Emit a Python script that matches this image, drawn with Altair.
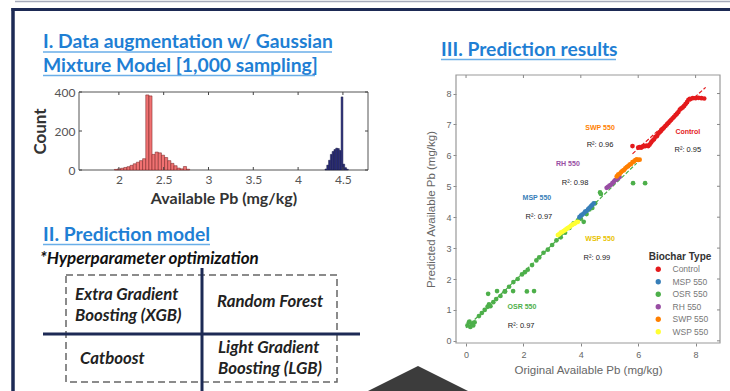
import altair as alt
import pandas as pd

# ---------------- data: histogram (GMM sampling) ----------------
red_bin_start = [1.950, 1.985, 2.020, 2.055, 2.090, 2.125, 2.160, 2.195, 2.230, 2.265,
                 2.300, 2.335, 2.370, 2.405, 2.440, 2.475, 2.510, 2.545, 2.580, 2.615,
                 2.650, 2.685, 2.720, 2.755]
red_count = [3, 6, 9, 13, 17, 24, 32, 40, 48, 58, 385, 380, 80, 92, 88, 76, 64, 48, 34, 22,
             10, 6, 18, 4]
red_bin_width = 0.035
blue_bin_start = [4.30, 4.32, 4.34, 4.36, 4.38, 4.40, 4.42, 4.44, 4.46, 4.48, 4.50, 4.52, 4.54]
blue_count = [5, 25, 50, 80, 95, 105, 112, 110, 100, 375, 30, 12, 4]
blue_bin_width = 0.02
hist_x_ticks = [2, 2.5, 3, 3.5, 4, 4.5]
hist_y_ticks = [0, 200, 400]

# ---------------- data: prediction scatter ----------------
categories = ["Control", "MSP 550", "OSR 550", "RH 550", "SWP 550", "WSP 550"]
cat_colors = ["#e41a1c", "#377eb8", "#4daf4a", "#984ea3", "#ff7f00", "#ffff33"]

osr_orig = [0.05, 0.10, 0.15, 0.20, 0.25, 0.30, 0.12, 0.45, 0.55, 0.65, 0.75, 0.80, 0.85,
            0.95, 1.05, 1.20, 1.35, 1.50, 1.65, 1.80, 1.95, 2.05, 2.15, 2.30, 2.45, 2.55,
            2.70, 2.85, 3.00, 3.15, 3.30, 3.45, 3.60, 3.75, 3.90, 4.00, 4.10, 4.20, 4.30,
            4.40, 4.50,
            0.77, 1.08, 1.36, 1.64, 2.12, 2.37, 4.67, 4.70, 5.82, 6.24]
osr_pred = [0.50, 0.60, 0.45, 0.55, 0.50, 0.60, 0.62, 0.80, 0.90, 1.00, 1.10, 1.18, 1.12,
            1.25, 1.35, 1.45, 1.60, 1.75, 1.90, 2.00, 2.15, 2.22, 2.30, 2.45, 2.60, 2.70,
            2.85, 2.95, 3.10, 3.25, 3.35, 3.50, 3.65, 3.80, 3.90, 3.95, 3.85, 4.10, 4.25,
            4.30, 4.45,
            1.52, 1.61, 1.60, 1.61, 1.60, 1.61, 4.80, 4.75, 5.10, 5.10]
wsp_orig = [3.20, 3.25, 3.30, 3.35, 3.40, 3.45, 3.50, 3.55, 3.60, 3.65, 3.70, 3.75, 3.80,
            3.85, 3.90]
wsp_pred = [3.42, 3.45, 3.50, 3.52, 3.55, 3.58, 3.62, 3.65, 3.68, 3.72, 3.75, 3.78, 3.80,
            3.84, 3.85]
msp_orig = [3.95, 4.00, 4.05, 4.10, 4.15, 4.20, 4.25, 4.30, 4.35, 4.40, 4.45]
msp_pred = [4.00, 4.05, 4.08, 4.12, 4.18, 4.20, 4.25, 4.30, 4.35, 4.40, 4.45]
rh_orig = [4.90, 4.95, 5.00, 5.05, 5.10, 5.15, 5.20, 5.25, 5.30, 5.35]
rh_pred = [4.95, 4.98, 5.02, 5.05, 5.10, 5.15, 5.20, 5.22, 5.27, 5.30]
swp_orig = [5.25, 5.30, 5.35, 5.40, 5.45, 5.50, 5.55, 5.60, 5.65, 5.70, 5.75, 5.80, 5.85,
            5.90, 5.95, 6.00, 6.05]
swp_pred = [5.32, 5.38, 5.40, 5.45, 5.50, 5.52, 5.58, 5.62, 5.65, 5.70, 5.72, 5.78, 5.80,
            5.85, 5.87, 5.85, 5.86]
ctrl_orig = [5.80, 6.00, 6.05, 6.10, 6.15, 6.20, 6.25, 6.30, 6.35, 6.40, 6.45, 6.50, 6.55,
             6.60, 6.65, 6.70, 6.75, 6.80, 6.85, 6.90, 6.95, 7.00, 7.05, 7.10, 7.15, 7.20,
             7.25, 7.30, 7.35, 7.40, 7.45, 7.50, 7.55, 7.60, 7.65, 7.70, 7.75, 7.80, 7.90,
             8.00, 8.10, 8.20, 8.30]
ctrl_pred = [6.30, 6.25, 6.27, 6.25, 6.28, 6.30, 6.30, 6.32, 6.30, 6.35, 6.42, 6.48, 6.52,
             6.60, 6.62, 6.70, 6.75, 6.80, 6.85, 6.90, 6.95, 7.00, 7.05, 7.10, 7.15, 7.20,
             7.25, 7.30, 7.35, 7.40, 7.48, 7.52, 7.55, 7.60, 7.66, 7.72, 7.80, 7.83, 7.85,
             7.85, 7.86, 7.85, 7.84]

fit_green_x = [0.0, 5.95]
fit_green_y = [0.42, 5.75]
fit_red_x = [5.80, 8.35]
fit_red_y = [6.05, 8.20]

ann_labels = ["SWP 550", "Control", "RH 550", "MSP 550", "WSP 550", "OSR 550"]
ann_x = [4.67, 7.73, 3.55, 2.47, 4.67, 1.95]
ann_y = [6.90, 6.74, 5.71, 4.61, 3.29, 1.10]
ann_colors = ["#ff7f00", "#e41a1c", "#984ea3", "#377eb8", "#e8c200", "#4daf4a"]
r2_labels = ["R\u00b2: 0.96", "R\u00b2: 0.95", "R\u00b2: 0.98", "R\u00b2: 0.97",
             "R\u00b2: 0.99", "R\u00b2: 0.97"]
r2_x = [4.67, 7.73, 3.80, 2.54, 4.56, 1.92]
r2_y = [6.32, 6.16, 5.10, 4.00, 2.68, 0.48]
sc_x_ticks = [0, 2, 4, 6, 8]
sc_y_ticks = [0, 1, 2, 3, 4, 5, 6, 7, 8]

# ---------------- styling ----------------
FONT_L = "Lato"
FONT_S = "Liberation Sans"
NAVY = "#1d2a55"
TITLE_BLUE = "#1f7fd4"
UL_BLUE = "#6aaee8"
TITLE_SIZE = 19.3
BOX_SIZE = 16.8

one = pd.DataFrame({"k": [0]})


def text(s, x, y, size, color="#222", weight="normal", style="normal",
         align="left", baseline="alphabetic", font=FONT_L):
    return alt.Chart(one).mark_text(
        text=s, align=align, baseline=baseline, font=font, fontSize=size,
        fontWeight=weight, fontStyle=style, color=color
    ).encode(x=alt.value(x), y=alt.value(y))


def hline(y, x1, x2, color, w, dash=None):
    kw = dict(color=color, strokeWidth=w)
    if dash:
        kw["strokeDash"] = dash
    return alt.Chart(one).mark_rule(**kw).encode(
        x=alt.value(x1), x2=alt.value(x2), y=alt.value(y))


def vline(x, y1, y2, color, w):
    return alt.Chart(one).mark_rule(color=color, strokeWidth=w).encode(
        x=alt.value(x), y=alt.value(y1), y2=alt.value(y2))


def box(x1, y1, x2, y2, color, w, dash=None):
    kw = dict(fill="white", fillOpacity=0, stroke=color, strokeWidth=w)
    if dash:
        kw["strokeDash"] = dash
    return alt.Chart(one).mark_rect(**kw).encode(
        x=alt.value(x1), x2=alt.value(x2), y=alt.value(y1), y2=alt.value(y2))


# ---------------- histogram ----------------
hist_rows = []
for s, c in zip(red_bin_start, red_count):
    hist_rows.append({"start": s, "end": round(s + red_bin_width, 4), "count": c,
                      "base": 0, "grp": "a"})
for s, c in zip(blue_bin_start, blue_count):
    hist_rows.append({"start": s, "end": round(s + blue_bin_width, 4), "count": c,
                      "base": 0, "grp": "b"})
hist_df = pd.DataFrame(hist_rows)

HX = alt.Scale(domain=[1.555, 4.78], range=[79, 368], nice=False, zero=False)
HY = alt.Scale(domain=[0, 400], range=[170, 92], nice=False, zero=False)

hist = alt.Chart(hist_df).mark_rect(strokeWidth=0.5).encode(
    x=alt.X("start:Q", scale=HX, axis=alt.Axis(
        orient="bottom", offset=-221, values=hist_x_ticks, ticks=False, domain=False,
        grid=False, labelFont=FONT_L, labelFontSize=12, labelColor="#555",
        labelPadding=4, labelFlush=False, labelOverlap=False, format="~g",
        title="Available Pb (mg/kg)", titleFont=FONT_L, titleFontSize=16,
        titleFontWeight="bold", titleColor="#333", titlePadding=5)),
    x2="end:Q",
    y=alt.Y("count:Q", scale=HY, axis=alt.Axis(
        orient="left", offset=-79, values=hist_y_ticks, ticks=False, domain=False,
        grid=False, labelFont=FONT_L, labelFontSize=12, labelColor="#555",
        labelPadding=4, labelOverlap=False, title="Count", titleFont=FONT_L,
        titleFontSize=17, titleFontWeight="bold", titleColor="#333", titlePadding=5)),
    y2="base:Q",
    fill=alt.Fill("grp:N", scale=alt.Scale(domain=["a", "b"],
                                           range=["#f07272", "#2b2e7e"]), legend=None),
    stroke=alt.Stroke("grp:N", scale=alt.Scale(domain=["a", "b"],
                                               range=["#6e1d1d", "#14163e"]), legend=None),
)

hx_df = pd.DataFrame({"v": hist_x_ticks})
hy_df = pd.DataFrame({"v": hist_y_ticks})
hist_top_ticks = alt.Chart(hx_df).mark_rule(color="#444", strokeWidth=1).encode(
    x=alt.X("v:Q", scale=HX, axis=None), y=alt.value(92), y2=alt.value(95))
hist_bot_ticks = alt.Chart(hx_df).mark_rule(color="#444", strokeWidth=1).encode(
    x=alt.X("v:Q", scale=HX, axis=None), y=alt.value(167), y2=alt.value(170))
hist_left_ticks = alt.Chart(hy_df).mark_rule(color="#444", strokeWidth=1).encode(
    y=alt.Y("v:Q", scale=HY, axis=None), x=alt.value(79), x2=alt.value(82))
hist_right_ticks = alt.Chart(hy_df).mark_rule(color="#444", strokeWidth=1).encode(
    y=alt.Y("v:Q", scale=HY, axis=None), x=alt.value(365), x2=alt.value(368))

# ---------------- scatter ----------------
sc_rows = []
for t, xs, ys in [("OSR 550", osr_orig, osr_pred), ("WSP 550", wsp_orig, wsp_pred),
                  ("MSP 550", msp_orig, msp_pred), ("RH 550", rh_orig, rh_pred),
                  ("SWP 550", swp_orig, swp_pred), ("Control", ctrl_orig, ctrl_pred)]:
    for a, b in zip(xs, ys):
        sc_rows.append({"orig": a, "pred": b, "type": t})
sc_df = pd.DataFrame(sc_rows)

SX = alt.Scale(domain=[-0.35, 8.85], range=[456, 720], nice=False, zero=False)
SY = alt.Scale(domain=[-0.07, 8.6], range=[343, 75], nice=False, zero=False)

points = alt.Chart(sc_df).mark_circle(size=22, opacity=1).encode(
    x=alt.X("orig:Q", scale=SX, axis=alt.Axis(
        orient="bottom", offset=-48, values=sc_x_ticks, tickSize=3, tickColor="#888",
        domain=False, grid=False, labelFont=FONT_S, labelFontSize=9, labelColor="#666",
        labelPadding=4, labelFlush=False, labelOverlap=False,
        title="Original Available Pb (mg/kg)", titleFont=FONT_S, titleFontSize=11.5,
        titleFontWeight="normal", titleColor="#666", titlePadding=5)),
    y=alt.Y("pred:Q", scale=SY, axis=alt.Axis(
        orient="left", offset=-456, values=sc_y_ticks, tickSize=3, tickColor="#888",
        domain=False, grid=False, labelFont=FONT_S, labelFontSize=9, labelColor="#666",
        labelPadding=2, labelOverlap=False,
        title="Predicted Available Pb (mg/kg)", titleFont=FONT_S, titleFontSize=11.5,
        titleFontWeight="normal", titleColor="#666", titlePadding=9)),
    color=alt.Color("type:N", scale=alt.Scale(domain=categories, range=cat_colors),
                    legend=alt.Legend(orient="none", legendX=654, legendY=265,
                                      direction="vertical", title=None,
                                      labelFont=FONT_S, labelFontSize=8.5,
                                      labelColor="#777", symbolType="circle",
                                      symbolSize=28, symbolStrokeWidth=0,
                                      rowPadding=3.5, labelOffset=10, padding=0)),
)

fit_df = pd.DataFrame({
    "orig": fit_green_x + fit_red_x,
    "pred": fit_green_y + fit_red_y,
    "line": ["g", "g", "r", "r"],
})
fits = alt.Chart(fit_df).mark_line(strokeDash=[4, 2], strokeWidth=1.2).encode(
    x=alt.X("orig:Q", scale=SX, axis=None),
    y=alt.Y("pred:Q", scale=SY, axis=None),
    color=alt.Color("line:N", scale=alt.Scale(domain=["g", "r"],
                                              range=["#4daf4a", "#e41a1c"]), legend=None),
)

ann_df = pd.DataFrame({"x": ann_x, "y": ann_y, "label": ann_labels, "col": ann_colors})
ann = alt.Chart(ann_df).mark_text(font=FONT_S, fontSize=7, fontWeight="bold").encode(
    x=alt.X("x:Q", scale=SX, axis=None), y=alt.Y("y:Q", scale=SY, axis=None),
    text="label:N", color=alt.Color("col:N", scale=None))
r2_df = pd.DataFrame({"x": r2_x, "y": r2_y, "label": r2_labels})
r2 = alt.Chart(r2_df).mark_text(font=FONT_S, fontSize=7.5, color="#222").encode(
    x=alt.X("x:Q", scale=SX, axis=None), y=alt.Y("y:Q", scale=SY, axis=None),
    text="label:N")

sx_df = pd.DataFrame({"v": sc_x_ticks})
sy_df = pd.DataFrame({"v": sc_y_ticks})
sc_top_ticks = alt.Chart(sx_df).mark_rule(color="#888", strokeWidth=1).encode(
    x=alt.X("v:Q", scale=SX, axis=None), y=alt.value(75), y2=alt.value(78))
sc_right_ticks = alt.Chart(sy_df).mark_rule(color="#888", strokeWidth=1).encode(
    y=alt.Y("v:Q", scale=SY, axis=None), x=alt.value(717), x2=alt.value(720))

# ---------------- decorations ----------------
layers = [
    hline(1.5, 15, 730, "#a5aabb", 1.5),
    hline(9.5, 11.5, 730, NAVY, 3),
    vline(13, 8, 391, NAVY, 3.5),
    # section I
    text("I. Data augmentation w/ Gaussian", 43, 48, TITLE_SIZE, TITLE_BLUE, weight="bold"),
    hline(52, 43, 332, UL_BLUE, 1.5),
    text("Mixture Model [1,000 sampling]", 43, 71.5, TITLE_SIZE, TITLE_BLUE, weight="bold"),
    hline(75.5, 43, 315, UL_BLUE, 1.5),
    box(79, 92, 368, 170, "#555", 1),
    hist, hist_top_ticks, hist_bot_ticks, hist_left_ticks, hist_right_ticks,
    # section II
    text("II. Prediction model", 43, 241, TITLE_SIZE, TITLE_BLUE, weight="bold"),
    hline(244.5, 43, 210, UL_BLUE, 1.5),
    text("*Hyperparameter optimization", 40, 264, 17, "#111", weight="bold", style="italic"),
    box(66, 275, 337, 382, "#666", 1.5, dash=[7, 4]),
    vline(202, 268, 391, NAVY, 3),
    hline(334, 43, 360, NAVY, 3),
    text("Extra Gradient", 75, 300, BOX_SIZE, "#222", weight="bold", style="italic"),
    text("Boosting (XGB)", 75, 321, BOX_SIZE, "#222", weight="bold", style="italic"),
    text("Random Forest", 217, 307, BOX_SIZE, "#222", weight="bold", style="italic"),
    text("Catboost", 80, 364, BOX_SIZE, "#222", weight="bold", style="italic"),
    text("Light Gradient", 218, 353, BOX_SIZE, "#222", weight="bold", style="italic"),
    text("Boosting (LGB)", 218, 374, BOX_SIZE, "#222", weight="bold", style="italic"),
    # section III
    text("III. Prediction results", 441, 56, TITLE_SIZE, TITLE_BLUE, weight="bold"),
    hline(59.5, 441, 616, UL_BLUE, 1.5),
    box(456, 75, 720, 343, "#999", 1.2),
    fits, points, sc_top_ticks, sc_right_ticks, ann, r2,
    text("Biochar Type", 680, 257, 10, "#333", weight="bold", align="center",
         baseline="middle", font=FONT_S),
    alt.Chart(one).mark_point(shape="M0,-0.5L1,0L1,1L-1,1L-1,0Z", size=10000,
                              filled=True, fill="#3c3c3c", strokeWidth=0,
                              opacity=1).encode(x=alt.value(418), y=alt.value(391)),
]

chart = alt.layer(*layers).resolve_scale(
    x="independent", y="independent", color="independent",
    fill="independent", stroke="independent"
).resolve_axis(x="independent", y="independent").properties(
    width=730, height=391, padding=0, background="white",
    autosize=alt.AutoSizeParams(type="none")
).configure_view(strokeWidth=0)

chart.save("out.html", embed_options={"renderer": "svg", "actions": False})
